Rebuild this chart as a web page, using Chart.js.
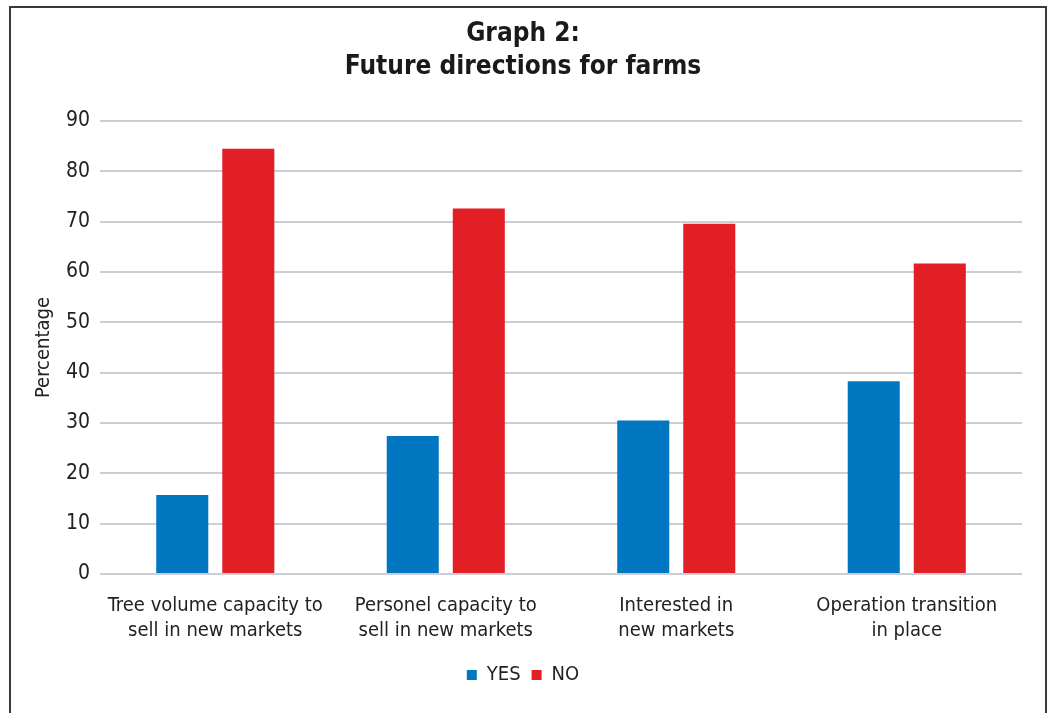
<!DOCTYPE html>
<html>
<head>
<meta charset="utf-8">
<script src="https://cdn.jsdelivr.net/npm/chart.js@4"></script>
<style>
  html, body { margin: 0; padding: 0; background: #fff; }
  #wrap { position: relative; width: 1050px; height: 713px; }
  #frame { position: absolute; left: 9px; top: 6px; width: 1034px; height: 720px;
           border-left: 2px solid #3a3a3a; border-top: 2px solid #3a3a3a; border-right: 2px solid #3a3a3a;
           pointer-events: none; }
</style>
</head>
<body>
<div id="wrap">
  <canvas id="c" width="1050" height="713"></canvas>
  <div id="frame"></div>
</div>
<script>
const categories = [
  ["Tree volume capacity to", "sell in new markets"],
  ["Personel capacity to", "sell in new markets"],
  ["Interested in", "new markets"],
  ["Operation transition", "in place"]
];
const yesValues = [15.7, 27.4, 30.5, 38.3];
const noValues = [84.5, 72.6, 69.6, 61.7];
const titleLines = ["Graph 2:", "Future directions for farms"];
const FONT = '"Liberation Sans Narrow", "DejaVu Sans Condensed", "Liberation Sans", sans-serif';

new Chart(document.getElementById('c'), {
  type: 'bar',
  data: {
    labels: categories,
    datasets: [
      { label: 'YES', data: yesValues, backgroundColor: '#0077c0', categoryPercentage: 0.573, barPercentage: 0.788 },
      { label: 'NO', data: noValues, backgroundColor: '#e31f26', categoryPercentage: 0.573, barPercentage: 0.788 }
    ]
  },
  options: {
    responsive: false,
    animation: false,
    devicePixelRatio: 1,
    layout: { padding: { left: 24, right: 28, top: 10, bottom: 18 } },
    plugins: {
      title: {
        display: true,
        text: titleLines,
        color: '#1a1a1a',
        font: { family: FONT, size: 26, weight: 'bold', lineHeight: 1.25 },
        padding: { top: 8, bottom: 38 }
      },
      legend: {
        position: 'bottom',
        labels: {
          boxWidth: 10, boxHeight: 10, color: '#222',
          font: { family: FONT, size: 20 }, padding: 11
        }
      },
      tooltip: { enabled: false }
    },
    scales: {
      x: {
        grid: { display: false, drawTicks: false },
        border: { display: false },
        ticks: { color: '#222', font: { family: FONT, size: 20, lineHeight: 1.25 }, padding: 19, maxRotation: 0 },
        afterFit: (scale) => { scale.height -= 8; }
      },
      y: {
        min: 0, max: 90,
        grid: { color: '#cbcdd7', lineWidth: 2, drawTicks: false },
        border: { display: false },
        ticks: { stepSize: 10, color: '#222', font: { family: FONT, size: 21 }, padding: 10 },
        title: { display: true, text: 'Percentage', color: '#222', font: { family: FONT, size: 20 }, padding: { top: 8, bottom: 0 } }
      }
    }
  }
});
</script>
</body>
</html>
